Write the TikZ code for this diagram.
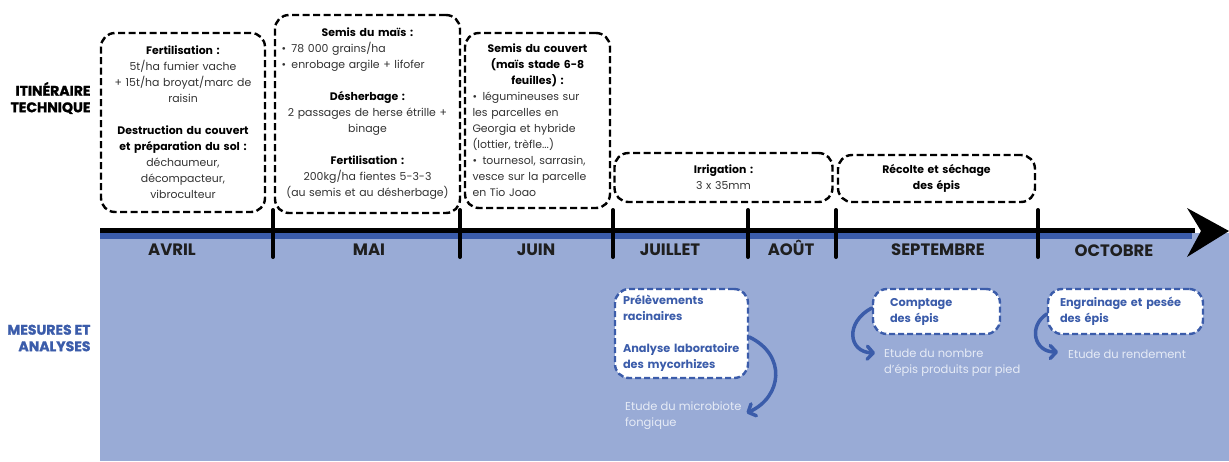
\documentclass[tikz,border=0pt]{standalone}
\usepackage{fontspec}
\setmainfont{Poppins}
\newfontfamily\heavy{Poppins}[BoldFeatures={FakeBold=1.3}]
\usetikzlibrary{arrows.meta}
\definecolor{bgblue}{HTML}{99ABD6}
\definecolor{dkblue}{HTML}{3B5CAA}
\definecolor{pale}{HTML}{E6EBF6}
\definecolor{txtgray}{HTML}{333333}
\newcommand\bul{\par\hangindent=10pt\hangafter=1\noindent\makebox[10pt][l]{•}}
\newcommand\gap{\par\vspace{16pt}}
\newcommand\hd{\bfseries\color{black}}
\tikzset{
  tbox/.style={draw=black, line width=2.4pt, dash pattern=on 7pt off 3.5pt, rounded corners=14pt, fill=white, inner sep=0pt, font=\fontsize{10.9}{16}\selectfont, text=txtgray},
  mbox/.style={draw=dkblue, line width=2.4pt, dash pattern=on 6pt off 3pt, rounded corners=14pt, fill=white, inner ysep=0pt, font=\fontsize{11.3}{16}\selectfont\bfseries, text=dkblue, align=left},
  month/.style={font=\fontsize{16.5}{18}\selectfont\bfseries, text=black!88, anchor=base},
  tick/.style={line width=4pt, line cap=round},
  side/.style={font=\fontsize{14}{16.5}\selectfont\heavy\bfseries, align=right, anchor=east},
  etude/.style={font=\fontsize{11.5}{16.5}\selectfont, text=pale, align=left, anchor=west, inner sep=0pt},
  marrow/.style={draw=dkblue, line width=3.5pt, line cap=round, -{Straight Barb[length=6pt,width=13pt,round]}},
}
\begin{document}
\begin{tikzpicture}[x=1pt,y=-1pt]
\useasboundingbox (0,0) rectangle (1229,461);
% background band
\fill[bgblue] (100,233) rectangle (1229,461);
\fill[dkblue] (100,233) rectangle (1192,238.5);
\draw[line width=5pt] (100,230.5) -- (1195,230.5);
\fill (1187,208) -- (1229,231) -- (1187,257) -- (1201,231) -- cycle;
% ticks
\foreach \x in {273,460,613,748,836,1038} \draw[tick] (\x,210) -- (\x,257);
% months
\node[month] (avril) at (172,255.5) {AVRIL};
\node[month] (mai) at (369,255.5) {MAI};
\node[month] (juin) at (536,255.5) {JUIN};
\node[month] (juil) at (670,255.5) {JUILLET};
\node[month] (aout) at (791,255.5) {AOÛT};
\node[month] (sept) at (938,255.5) {SEPTEMBRE};
\node[month] (oct) at (1114,256.5) {OCTOBRE};
% side labels
\node[side] (it) at (94,98) {ITINÉRAIRE\\TECHNIQUE};
\node[side, text=dkblue] (ma) at (94,338) {MESURES ET\\ANALYSES};
% boxes
\node[tbox, minimum width=164pt, minimum height=179pt, text width=158pt] (b1) at (183,122.5)
 {\centering{\hd Fertilisation :}\\5t/ha fumier vache\\+ 15t/ha broyat/marc de\\raisin\gap
  {\hd Destruction du couvert\\et préparation du sol :}\\déchaumeur,\\décompacteur,\\vibroculteur\par};
\node[tbox, minimum width=185pt, minimum height=198pt, text width=172pt] (b2) at (367.5,114)
 {\centering{\hd Semis du maïs :}\par\raggedright
  \bul 78 000 grains/ha\bul enrobage argile + lifofer\gap
  \centering{\hd Désherbage :}\\2 passages de herse étrille +\\binage\gap
  {\hd Fertilisation :}\\200kg/ha fientes 5-3-3\\(au semis et au désherbage)\par};
\node[tbox, minimum width=145pt, minimum height=175pt, text width=130pt] (b3) at (537.5,120.5)
 {\centering{\hd Semis du couvert\\(maïs stade 6-8\\feuilles) :}\par\raggedright
  \bul légumineuses sur\\les parcelles en\\Georgia et hybride\\(lottier, trèfle...)\bul tournesol, sarrasin,\\vesce sur la parcelle\\en Tio Joao\par};
\node[tbox, minimum width=218pt, minimum height=49pt, text width=200pt] (b4) at (723.5,177.5)
 {\centering{\hd Irrigation :}\\3 x 35mm\par};
\node[tbox, minimum width=197pt, minimum height=47pt, text width=180pt] (b5) at (936.5,178.5)
 {\centering{\hd Récolte et séchage\\des épis}\par};
% measure boxes
\node[mbox, minimum width=133pt, minimum height=89pt, text width=117pt, inner xsep=8pt] (m1) at (681.5,333.5)
 {Prélèvements\\racinaires\\[16pt]Analyse laboratoire\\des mycorhizes};
\node[mbox, minimum width=127pt, minimum height=45pt, text width=93pt, inner xsep=17pt] (m2) at (936.5,311.5)
 {Comptage\\des épis};
\node[mbox, minimum width=155pt, minimum height=45pt, text width=131pt, inner xsep=12pt] (m3) at (1125.5,311.5)
 {Engrainage et pesée\\des épis};
% etude texts
\node[etude] (e1) at (625,415.5) {Etude du microbiote\\fongique};
\node[etude] (e2) at (884,362.5) {Etude du nombre\\d'épis produits par pied};
\node[etude] (e3) at (1068,354) {Etude du rendement};
% arrows
\draw[marrow] ([yshift=-3.5pt]m1.east) .. controls (787,355) and (782,397) .. ([xshift=5pt,yshift=2.5pt]e1.east);
\draw[marrow] ([yshift=3.5pt]m2.west) .. controls (845,322) and (848,352) .. ([xshift=-9pt,yshift=9.5pt]e2.west);
\draw[marrow] ([yshift=-2.5pt]m3.west) .. controls (1028,326) and (1034,352) .. ([xshift=-10pt,yshift=2pt]e3.west);
\end{tikzpicture}
\end{document}
